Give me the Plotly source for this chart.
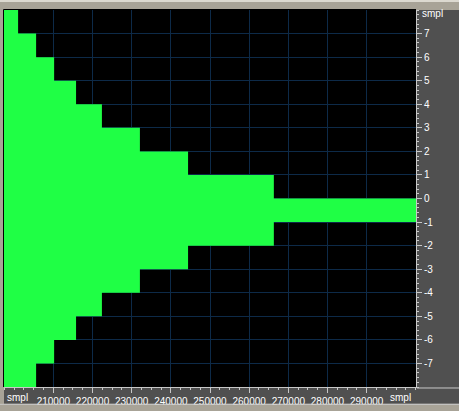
import plotly.graph_objects as go

# envelope of the waveform, in samples
upper_x = [197400, 201000, 205600, 210200, 215800, 222400, 232100, 244400, 266300, 302600]
upper_y = [8, 7, 6, 5, 4, 3, 2, 1, 0, 0]
lower_x = [197400, 205600, 210200, 215800, 222400, 232100, 244400, 266300, 302600]
lower_y = [-8, -7, -6, -5, -4, -3, -2, -1, -1]

x_ticks = [210000, 220000, 230000, 240000, 250000, 260000, 270000, 280000, 290000]
y_ticks = [7, 6, 5, 4, 3, 2, 1, 0, -1, -2, -3, -4, -5, -6, -7]

W, H = 459, 411
L, R, T, B = 4, 416, 10, 391
GREEN = '#1fff45'
PANEL = '#505050'
TAN = '#a8a397'
LIGHT = '#c8c8c8'
GRID = '#0d2a48'


def px(x):
    return (x - L) / (R - L)


def py(y):
    return (B - y) / (B - T)


fig = go.Figure()
fig.add_trace(go.Scatter(x=lower_x, y=lower_y, mode='lines', line=dict(shape='hv', width=0, color=GREEN),
                         hoverinfo='skip'))
fig.add_trace(go.Scatter(x=upper_x, y=upper_y, mode='lines', line=dict(shape='hv', width=0, color=GREEN),
                         fill='tonexty', fillcolor=GREEN, hoverinfo='skip'))

shapes = [
    # top light strip
    dict(type='rect', xref='paper', yref='paper', x0=px(0), x1=px(W), y0=py(2), y1=py(0),
         fillcolor='#dcd9d0', line_width=0, layer='below'),
    # right panel
    dict(type='rect', xref='paper', yref='paper', x0=px(417), x1=px(W), y0=py(408), y1=py(T),
         fillcolor=PANEL, line_width=0, layer='below'),
    # bottom panel
    dict(type='rect', xref='paper', yref='paper', x0=px(L), x1=px(417), y0=py(408), y1=py(B),
         fillcolor=PANEL, line_width=0, layer='below'),
    # separators
    dict(type='line', xref='paper', yref='paper', x0=px(417), x1=px(W), y0=py(392), y1=py(392),
         line=dict(color=LIGHT, width=1)),
    dict(type='line', xref='paper', yref='paper', x0=px(0), x1=px(W), y0=py(408.5), y1=py(408.5),
         line=dict(color=LIGHT, width=1)),
    # black frame on left/top
    dict(type='line', xref='paper', yref='paper', x0=px(3.5), x1=px(3.5), y0=py(B), y1=py(9.5),
         line=dict(color='black', width=1)),
    dict(type='line', xref='paper', yref='paper', x0=px(3.5), x1=px(R), y0=py(9.5), y1=py(9.5),
         line=dict(color='black', width=1)),
]

font = dict(family='Liberation Sans, Arial, sans-serif', size=10, color='white')
annotations = [
    dict(text='smpl', xref='paper', yref='paper', x=px(420), y=py(14), xanchor='left', yanchor='middle',
         showarrow=False, font=font),
    dict(text='smpl', xref='paper', yref='paper', x=px(5), y=py(402), xanchor='left', yanchor='middle',
         showarrow=False, font=font),
    dict(text='smpl', xref='paper', yref='paper', x=px(413), y=py(402), xanchor='right', yanchor='middle',
         showarrow=False, font=font),
]

fig.update_layout(
    width=W, height=H,
    margin=dict(l=L, r=W - R, t=T, b=H - B, pad=0),
    paper_bgcolor=TAN,
    plot_bgcolor='black',
    showlegend=False,
    shapes=shapes,
    annotations=annotations,
    font=font,
    xaxis=dict(range=[upper_x[0], upper_x[-1]], tickvals=x_ticks, ticktext=[str(v) for v in x_ticks],
               showgrid=True, gridcolor=GRID, gridwidth=1, zeroline=False,
               showline=True, linecolor=LIGHT, linewidth=1, mirror=False,
               ticks='outside', ticklen=5, tickcolor=LIGHT, tickfont=font,
               minor=dict(dtick=2500, tick0=0, ticks='outside', ticklen=2, tickcolor=LIGHT, showgrid=False)),
    yaxis=dict(range=[-8, 8], side='right', tickvals=y_ticks, ticktext=[str(v) for v in y_ticks],
               showgrid=True, gridcolor=GRID, gridwidth=1, zeroline=False,
               showline=True, linecolor=LIGHT, linewidth=1,
               ticks='outside', ticklen=5, tickcolor=LIGHT, tickfont=font,
               minor=dict(dtick=0.2, tick0=0, ticks='outside', ticklen=2, tickcolor=LIGHT, showgrid=False)),
)

# page has a default body margin which would push the chart off the window
fig.write_html("out.html", config={'displayModeBar': False},
               post_script="document.body.style.margin='0';")
